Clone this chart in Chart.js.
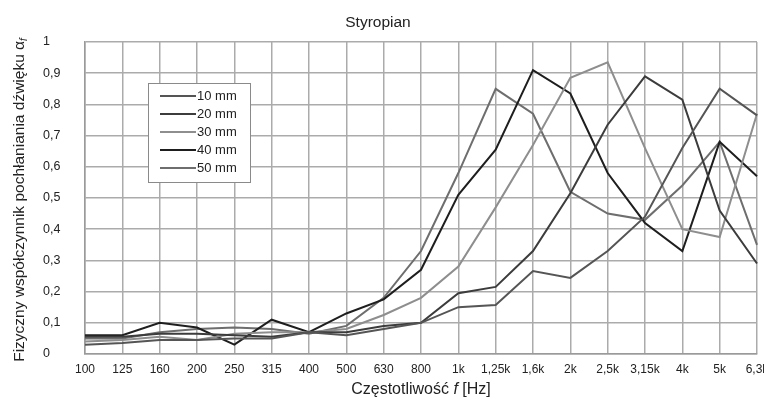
<!DOCTYPE html>
<html>
<head>
<meta charset="utf-8">
<script src="https://cdn.jsdelivr.net/npm/chart.js@4.4.1/dist/chart.umd.min.js"></script>
<style>
  html, body { margin: 0; padding: 0; background: #fff; }
  #wrap { width: 764px; height: 401px; }
</style>
</head>
<body>
<div id="wrap"><canvas id="myChart" width="764" height="401"></canvas></div>
<script>
// frequency bands
const categories = ['100','125','160','200','250','315','400','500','630','800','1k','1,25k','1,6k','2k','2,5k','3,15k','4k','5k','6,3k'];

// absorption coefficient
const mm10 = [0.03,0.035,0.045,0.045,0.05,0.05,0.07,0.06,0.08,0.10,0.15,0.157,0.266,0.244,0.33,0.44,0.66,0.85,0.765];
const mm20 = [0.055,0.055,0.065,0.065,0.06,0.055,0.07,0.07,0.09,0.10,0.195,0.215,0.33,0.515,0.735,0.89,0.815,0.46,0.29];
const mm30 = [0.04,0.045,0.055,0.045,0.065,0.07,0.07,0.08,0.125,0.18,0.28,0.47,0.67,0.885,0.935,0.66,0.40,0.375,0.77];
const mm40 = [0.06,0.06,0.10,0.085,0.03,0.11,0.07,0.13,0.175,0.27,0.51,0.655,0.91,0.835,0.58,0.42,0.33,0.68,0.57];
const mm50 = [0.05,0.05,0.07,0.08,0.085,0.08,0.065,0.09,0.18,0.33,0.58,0.85,0.77,0.52,0.45,0.43,0.54,0.68,0.35];

const seriesLabels = ['10 mm','20 mm','30 mm','40 mm','50 mm'];
const yTicks = [0,0.1,0.2,0.3,0.4,0.5,0.6,0.7,0.8,0.9,1];
const chartTitle = 'Styropian';

const FONT = '"Liberation Sans", Arial, sans-serif';

function line(label, data, color) {
    return {
        label: label,
        data: data,
        borderColor: color,
        backgroundColor: color,
        borderWidth: 2,
        pointRadius: 0,
        tension: 0,
        fill: false
    };
}

// title, legend box inside the plot, axis titles with italic/subscript f
const extras = {
    id: 'extras',
    afterDraw(chart) {
        const c = chart.ctx;
        const area = chart.chartArea;
        c.save();

        c.fillStyle = '#222';
        c.textBaseline = 'middle';
        c.textAlign = 'center';
        c.font = '15.5px ' + FONT;
        c.fillText(chartTitle, 378, 23);

        // legend
        const bx = 148, by = 83, bw = 102, bh = 99;
        c.fillStyle = '#fff';
        c.fillRect(bx, by, bw, bh);
        c.strokeStyle = '#8a8a8a';
        c.lineWidth = 1;
        c.strokeRect(bx + 0.5, by + 0.5, bw, bh);
        c.font = '13px ' + FONT;
        c.textAlign = 'left';
        chart.data.datasets.forEach((ds, i) => {
            const y = by + 13 + i * 18;
            c.strokeStyle = ds.borderColor;
            c.lineWidth = 2;
            c.beginPath();
            c.moveTo(bx + 12, y);
            c.lineTo(bx + 48, y);
            c.stroke();
            c.fillStyle = '#222';
            c.fillText(ds.label, bx + 49, y);
        });

        // x title
        const cx = (area.left + area.right) / 2;
        const ty = 390;
        const p1 = 'Częstotliwość ', p2 = 'f', p3 = ' [Hz]';
        c.fillStyle = '#222';
        c.font = '16px ' + FONT;
        const w1 = c.measureText(p1).width, w3 = c.measureText(p3).width;
        c.font = 'italic 16px ' + FONT;
        const w2 = c.measureText(p2).width;
        let x = cx - (w1 + w2 + w3) / 2;
        c.font = '16px ' + FONT;
        c.fillText(p1, x, ty);
        c.font = 'italic 16px ' + FONT;
        c.fillText(p2, x + w1, ty);
        c.font = '16px ' + FONT;
        c.fillText(p3, x + w1 + w2, ty);

        // y title
        const t1 = 'Fizyczny współczynnik pochłaniania dźwięku α';
        c.translate(20, 200);
        c.rotate(-Math.PI / 2);
        c.font = '15.5px ' + FONT;
        const wt = c.measureText(t1).width;
        c.font = 'italic 10px ' + FONT;
        const ws = c.measureText('f').width;
        const sx = -(wt + ws) / 2;
        c.font = '15.5px ' + FONT;
        c.fillText(t1, sx, 0);
        c.font = 'italic 10px ' + FONT;
        c.fillText('f', sx + wt, 4);
        c.restore();
    }
};

const ctx = document.getElementById('myChart');
new Chart(ctx, {
    type: 'line',
    data: {
        labels: categories,
        datasets: [
            line(seriesLabels[0], mm10, '#555555'),
            line(seriesLabels[1], mm20, '#3c3c3c'),
            line(seriesLabels[2], mm30, '#8e8e8e'),
            line(seriesLabels[3], mm40, '#1e1e1e'),
            line(seriesLabels[4], mm50, '#6e6e6e')
        ]
    },
    options: {
        responsive: false,
        animation: false,
        layout: { padding: { left: 43, right: 7, top: 42, bottom: 0 } },
        plugins: {
            legend: { display: false },
            tooltip: { enabled: false },
            title: { display: false }
        },
        scales: {
            x: {
                offset: false,
                grid: { color: '#ababab', lineWidth: 1.5, drawTicks: false },
                border: { color: '#9a9a9a', width: 1.5 },
                ticks: {
                    color: '#222',
                    font: { family: FONT, size: 12 },
                    padding: 8,
                    maxRotation: 0,
                    autoSkip: false
                },
                afterFit(scale) {
                    scale.height = 47;
                    scale.paddingLeft = 0;
                    scale.paddingRight = 0;
                }
            },
            y: {
                min: 0,
                max: 1,
                afterBuildTicks(scale) {
                    scale.ticks = yTicks.map(v => ({ value: v }));
                },
                grid: { color: '#ababab', lineWidth: 1.5, drawTicks: false },
                border: { color: '#9a9a9a', width: 1.5 },
                ticks: {
                    color: '#222',
                    font: { family: FONT, size: 12.5 },
                    crossAlign: 'far',
                    callback: v => (v === 0 || v === 1) ? String(v) : v.toFixed(1).replace('.', ',')
                },
                afterFit(scale) {
                    scale.width = 42;
                    scale.paddingTop = 0;
                    scale.paddingBottom = 0;
                }
            }
        }
    },
    plugins: [extras]
});
</script>
</body>
</html>
